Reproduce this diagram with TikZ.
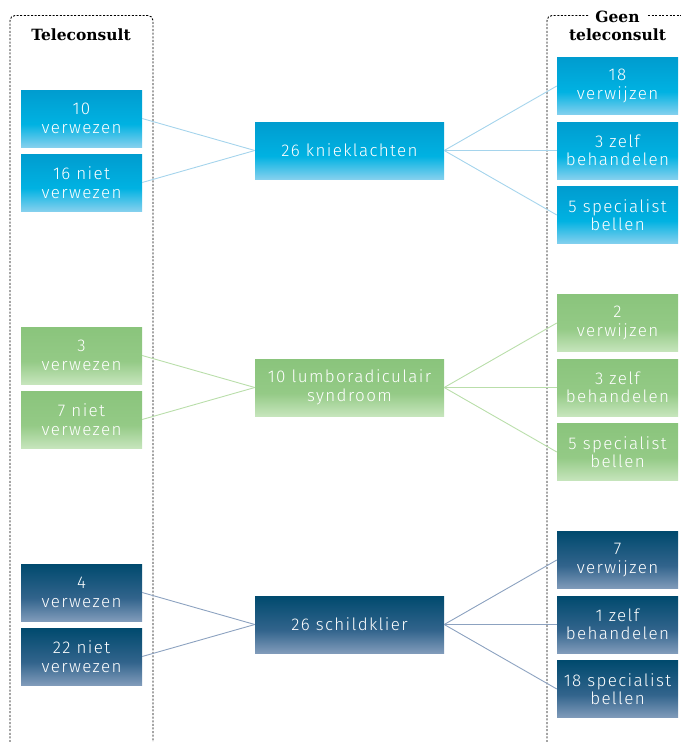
\documentclass[tikz,border=0pt]{standalone}
\usepackage{fontspec}
\newfontfamily\boxfont[LetterSpace=8,UprightFont=* Light]{Fira Sans}
\newfontfamily\titlefont{DejaVu Serif}
\definecolor{btop}{RGB}{0,156,207}
\definecolor{bmid}{RGB}{0,178,226}
\definecolor{bbot}{RGB}{132,208,238}
\definecolor{gtop}{RGB}{138,196,124}
\definecolor{gmid}{RGB}{148,202,134}
\definecolor{gbot}{RGB}{198,229,188}
\definecolor{ntop}{RGB}{0,74,110}
\definecolor{nmid}{RGB}{50,100,140}
\definecolor{nbot}{RGB}{128,155,186}
\definecolor{bline}{RGB}{165,212,236}
\definecolor{gline}{RGB}{185,222,170}
\definecolor{nline}{RGB}{140,162,192}
\pgfdeclareverticalshading{bshade}{100bp}{color(0bp)=(bbot); color(25bp)=(bbot); color(45bp)=(bmid); color(75bp)=(btop); color(100bp)=(btop)}
\pgfdeclareverticalshading{gshade}{100bp}{color(0bp)=(gbot); color(25bp)=(gbot); color(45bp)=(gmid); color(75bp)=(gtop); color(100bp)=(gtop)}
\pgfdeclareverticalshading{nshade}{100bp}{color(0bp)=(nbot); color(25bp)=(nbot); color(45bp)=(nmid); color(75bp)=(ntop); color(100bp)=(ntop)}
\tikzset{
  box/.style={minimum width=121pt, minimum height=57pt, inner sep=0pt, align=center, text=white,
    font=\fontsize{17}{18.5}\selectfont\boxfont},
  cbox/.style={box, minimum width=189pt},
  frame/.style={draw=black, line width=0.9pt, dash pattern=on 2pt off 1.6pt},
  conn/.style={line width=0.9pt},
  ttl/.style={font=\fontsize{15.5}{18}\selectfont\titlefont\bfseries, inner sep=0pt, anchor=base}
}
\begin{document}
\begin{tikzpicture}[x=1pt,y=-1pt]
\useasboundingbox (0,0) rectangle (681,742);
% frames
\draw[frame, rounded corners=5pt] (10,742) -- (10,15.5) -- (153,15.5) -- (153,742);
\draw[frame, rounded corners=5pt] (547,742) -- (547,15.5) -- (589,15.5);
\draw[frame] (648,15.5) -- (681,15.5);
\node[ttl] (tl) at (81,40) {Teleconsult};
\node[ttl] (tr1) at (617.5,22) {Geen};
\node[ttl] (tr2) at (617.5,40) {teleconsult};

% group 1
\node[box, shading=bshade] (a1) at (81.5,118.5) {10\\verwezen};
\node[box, shading=bshade] (a2) at (81.5,182.5) {16 niet\\verwezen};
\node[cbox, shading=bshade] (ac) at (349.5,150.5) {26 knieklachten};
\node[box, shading=bshade] (ar1) at (617.5,86) {18\\verwijzen};
\node[box, shading=bshade] (ar2) at (617.5,150.5) {3 zelf\\behandelen};
\node[box, shading=bshade] (ar3) at (617.5,215) {5 specialist\\bellen};
\draw[conn, bline] (a1.east) -- (ac.west);
\draw[conn, bline] (a2.east) -- (ac.west);
\draw[conn, bline] (ac.east) -- (ar1.west);
\draw[conn, bline] (ac.east) -- (ar2.west);
\draw[conn, bline] (ac.east) -- (ar3.west);

% group 2
\node[box, shading=gshade] (b1) at (81.5,355.5) {3\\verwezen};
\node[box, shading=gshade] (b2) at (81.5,419.5) {7 niet\\verwezen};
\node[cbox, shading=gshade] (bc) at (349.5,387.5) {10 lumboradiculair\\syndroom};
\node[box, shading=gshade] (br1) at (617.5,323) {2\\verwijzen};
\node[box, shading=gshade] (br2) at (617.5,387.5) {3 zelf\\behandelen};
\node[box, shading=gshade] (br3) at (617.5,452) {5 specialist\\bellen};
\draw[conn, gline] (b1.east) -- (bc.west);
\draw[conn, gline] (b2.east) -- (bc.west);
\draw[conn, gline] (bc.east) -- (br1.west);
\draw[conn, gline] (bc.east) -- (br2.west);
\draw[conn, gline] (bc.east) -- (br3.west);

% group 3
\node[box, shading=nshade] (c1) at (81.5,592.5) {4\\verwezen};
\node[box, shading=nshade] (c2) at (81.5,656.5) {22 niet\\verwezen};
\node[cbox, shading=nshade] (cc) at (349.5,624.5) {26 schildklier};
\node[box, shading=nshade] (cr1) at (617.5,560) {7\\verwijzen};
\node[box, shading=nshade] (cr2) at (617.5,624.5) {1 zelf\\behandelen};
\node[box, shading=nshade] (cr3) at (617.5,689) {18 specialist\\bellen};
\draw[conn, nline] (c1.east) -- (cc.west);
\draw[conn, nline] (c2.east) -- (cc.west);
\draw[conn, nline] (cc.east) -- (cr1.west);
\draw[conn, nline] (cc.east) -- (cr2.west);
\draw[conn, nline] (cc.east) -- (cr3.west);
\end{tikzpicture}
\end{document}
